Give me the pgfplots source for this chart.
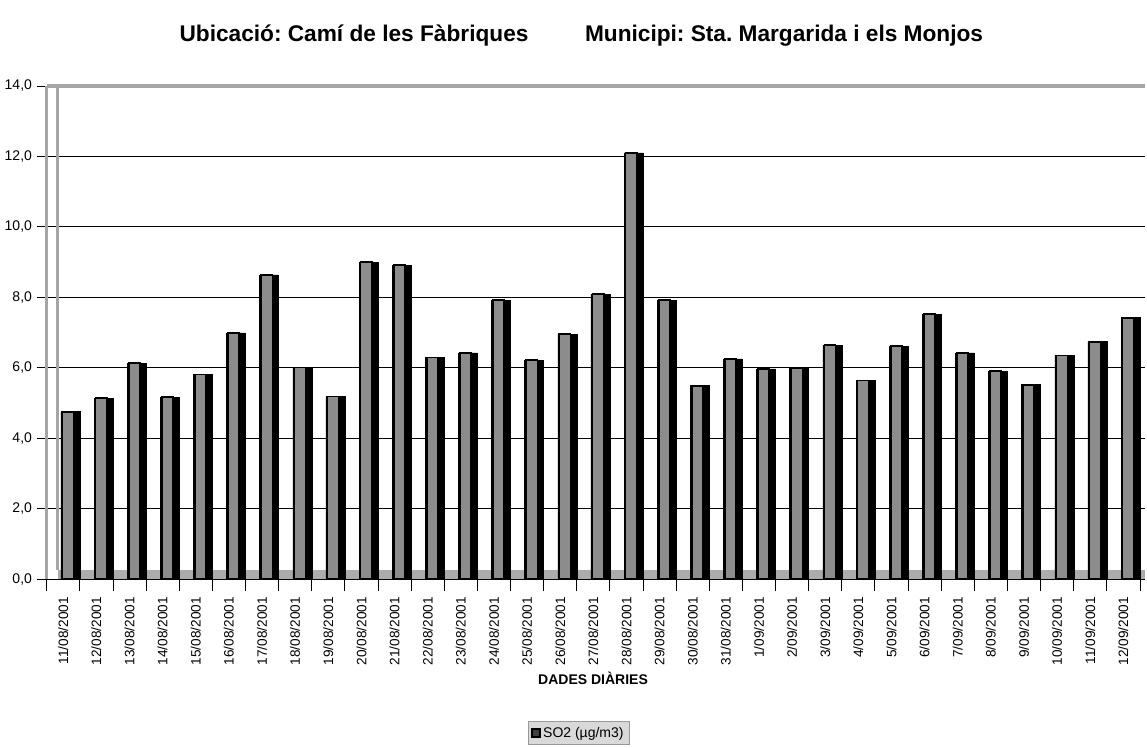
\documentclass[border=0pt]{standalone}
\usepackage{fontspec}
\setmainfont{Liberation Sans}
\usepackage{pgfplots}
\pgfplotsset{compat=1.18}
\usepackage{pgfplotstable}
\frenchspacing
\pgfplotstableread{
x v
0 4.75
1 5.14
2 6.13
3 5.16
4 5.81
5 6.99
6 8.64
7 6.01
8 5.18
9 9.00
10 8.91
11 6.29
12 6.42
13 7.92
14 6.21
15 6.95
16 8.09
17 12.10
18 7.92
19 5.49
20 6.25
21 5.97
22 5.99
23 6.64
24 5.64
25 6.61
26 7.52
27 6.42
28 5.90
29 5.52
30 6.35
31 6.74
32 7.42
}\data
\begin{document}
\begin{tikzpicture}[x=1pt,y=1pt]
\useasboundingbox (-35.0,-126) rectangle (825.2,434.25);
\begin{axis}[at={(0,0)}, anchor=south west, scale only axis,
 width=823.6pt, height=369.75pt,
 xmin=-0.5, xmax=32.65, ymin=0, ymax=14,
 axis x line*=bottom, axis y line*=left,
 x axis line style={-, black, line width=0.8pt},
 y axis line style={-, gray!70, line width=2.4pt},
 ytick={0,2,...,14},
 tick align=outside,
 major tick length=7.5pt,
 ytick style={black, line width=0.6pt},
 ymajorgrids, major grid style={black, line width=0.7pt},
 yticklabel style={font=\fontsize{10.5}{12}\selectfont, /pgf/number format/.cd, fixed, fixed zerofill, precision=1, use comma, assume math mode=true},
 xtick={0,...,32},
 xticklabels={11/08/2001,12/08/2001,13/08/2001,14/08/2001,15/08/2001,16/08/2001,17/08/2001,18/08/2001,19/08/2001,20/08/2001,21/08/2001,22/08/2001,23/08/2001,24/08/2001,25/08/2001,26/08/2001,27/08/2001,28/08/2001,29/08/2001,30/08/2001,31/08/2001,1/09/2001,2/09/2001,3/09/2001,4/09/2001,5/09/2001,6/09/2001,7/09/2001,8/09/2001,9/09/2001,10/09/2001,11/09/2001,12/09/2001},
 major x tick style={draw=none},
 minor xtick={-0.5,0.5,...,32.5},
 minor tick length=9pt,
 minor x tick style={black, line width=0.6pt},
 xticklabel shift=2.5pt,
 xticklabel style={rotate=90, anchor=east, font=\fontsize{10.2}{12}\selectfont},
 xlabel={DADES DIÀRIES},
 xlabel style={at={(axis description cs:0.4975,-0.2008)}, anchor=center, font=\fontsize{10.5}{12}\selectfont\bfseries},
 legend style={at={(axis description cs:0.4843,-0.3124)}, anchor=center, fill=gray!30, draw=gray!80, font=\fontsize{10.5}{12}\selectfont, inner sep=2pt, legend cell align=left},
 legend image code/.code={\draw[fill=black!75, draw=black] (0pt,-3pt) rectangle (6pt,3pt);},
 clip=false,
]
\fill[gray!65] (axis cs:-0.17,0) rectangle (axis cs:32.65,0.26);
\draw[gray!70, line width=2.2pt] (axis cs:-0.17,0.26) -- (axis cs:-0.17,14);
\draw[gray!70, line width=2.4pt] (axis cs:-0.5,14) -- (axis cs:32.65,14);
\addplot[ybar, bar width=14.25pt, bar shift=5.4pt, fill=black, draw=black, forget plot] table[x=x,y=v]{\data};
\addplot[ybar, bar width=8.4pt, bar shift=3.6pt, fill=black!45, draw=black, line width=1.3pt] table[x=x,y=v]{\data};
\addlegendentry{SO2 (µg/m3)}
\end{axis}
\node[font=\fontsize{17}{20}\selectfont\bfseries] at (230.5,407.25) {Ubicació: Camí de les Fàbriques};
\node[font=\fontsize{17}{20}\selectfont\bfseries] at (553,407.25) {Municipi: Sta. Margarida i els Monjos};
\end{tikzpicture}
\end{document}
